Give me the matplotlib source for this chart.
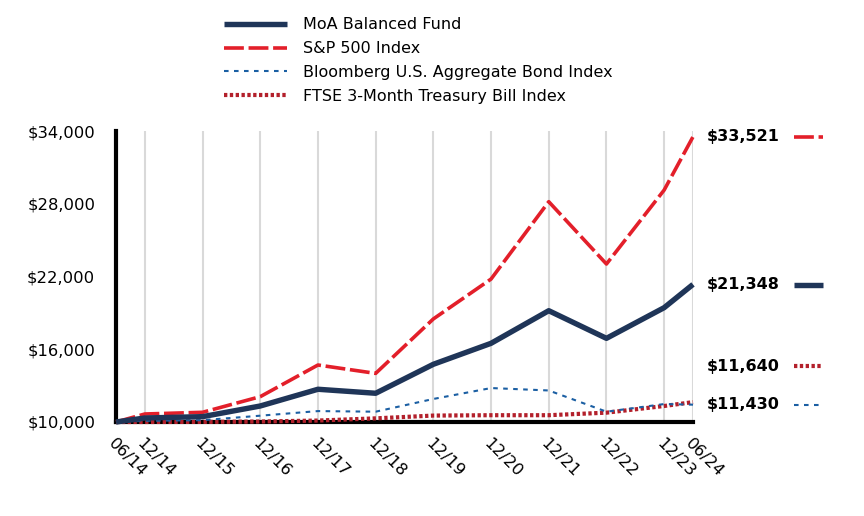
import matplotlib
matplotlib.use("Agg")
import matplotlib.pyplot as plt
from matplotlib.lines import Line2D

plt.rcParams['font.family'] = ['DejaVu Sans']

x_labels = ["06/14", "12/14", "12/15", "12/16", "12/17", "12/18", "12/19",
            "12/20", "12/21", "12/22", "12/23", "06/24"]
x_pos = [0, 0.5, 1.5, 2.5, 3.5, 4.5, 5.5, 6.5, 7.5, 8.5, 9.5, 10]

moa = [10000, 10330, 10440, 11320, 12700, 12370, 14760, 16490, 19180, 16900, 19430, 21348]
sp500 = [10000, 10660, 10800, 12090, 14700, 14010, 18500, 21790, 28170, 23030, 29130, 33521]
bond = [10000, 10100, 10150, 10520, 10900, 10850, 11900, 12800, 12600, 10850, 11480, 11430]
tbill = [10000, 10000, 10010, 10040, 10120, 10300, 10530, 10560, 10560, 10770, 11320, 11640]

names = ["MoA Balanced Fund", "S&P 500 Index", "Bloomberg U.S. Aggregate Bond Index",
         "FTSE 3-Month Treasury Bill Index"]
end_labels = ["$21,348", "$33,521", "$11,430", "$11,640"]

c_moa = "#1f3558"
c_sp = "#e31f2a"
c_bond = "#1b5fa3"
c_tb = "#b3202b"

FS = 11.8

fig = plt.figure(figsize=(8.64, 5.16), dpi=100)
ax = fig.add_axes([116/864, 1 - 422/516, (693-116)/864, (422-131)/516])

styles = [
    dict(color=c_moa, lw=3.9, ls='-', solid_capstyle='butt'),
    dict(color=c_sp, lw=2.6, ls=(0, (5.5, 1.3)), dash_capstyle='butt'),
    dict(color=c_bond, lw=1.5, ls=(0, (2.2, 2.6)), dash_capstyle='butt'),
    dict(color=c_tb, lw=3.0, ls=(0, (0.8, 0.6)), dash_capstyle='butt'),
]
series = [moa, sp500, bond, tbill]
order = [3, 2, 1, 0]
for i in order:
    ax.plot(x_pos, series[i], zorder=5 if i == 0 else 4, clip_on=False, **styles[i])

ax.set_xlim(0, 10)
ax.set_ylim(10000, 34000)
ax.set_yticks([10000, 16000, 22000, 28000, 34000])
ax.set_yticklabels(["$10,000", "$16,000", "$22,000", "$28,000", "$34,000"], fontsize=FS)
ax.set_xticks(x_pos)
ax.set_xticklabels(x_labels, fontsize=FS, rotation=-45, ha='left', va='top', rotation_mode='anchor')
ax.tick_params(axis='y', length=0, pad=15)
ax.tick_params(axis='x', length=0, pad=10)
for xv in x_pos[1:]:
    ax.axvline(xv, color='#d9d9d9', lw=1.5, zorder=1)
for s in ['top', 'right']:
    ax.spines[s].set_visible(False)
ax.spines['left'].set_linewidth(3)
ax.spines['bottom'].set_linewidth(3)
ax.spines['left'].set_zorder(3)
ax.spines['bottom'].set_zorder(3)

# end labels
text_y_px = [285, 137, 405, 366]
for i in range(4):
    yfig = 1 - text_y_px[i] / 516
    fig.text(707/864, yfig, end_labels[i], fontsize=11.5, fontweight='bold', va='center', ha='left')
    fig.add_artist(Line2D([794/864, 823/864], [yfig, yfig], transform=fig.transFigure, **styles[i]))

handles = [Line2D([], [], **styles[i]) for i in range(4)]
fig.legend(handles, names, loc='upper left', bbox_to_anchor=(218/864, 1 - 11/516), frameon=False,
           fontsize=11.5, handlelength=3.9, handletextpad=1.0, labelspacing=0.55, borderaxespad=0)

fig.savefig("out.png", dpi=100)
